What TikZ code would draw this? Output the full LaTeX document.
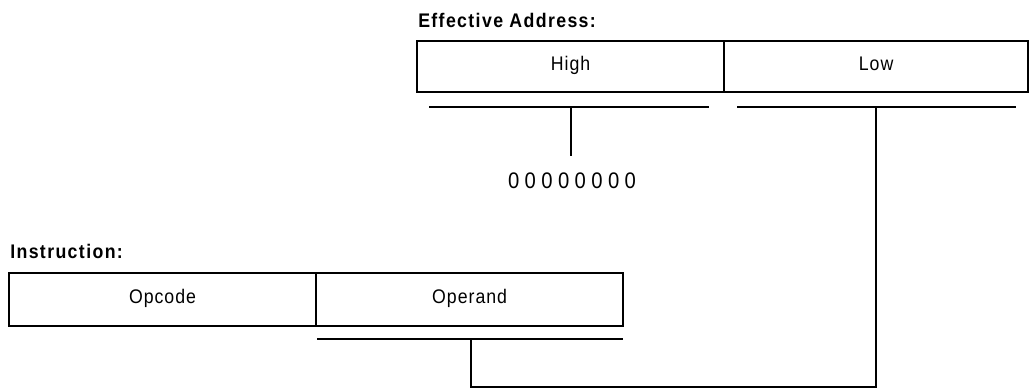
\documentclass[tikz,border=0pt]{standalone}
\usepackage{fontspec}
\setmainfont{Liberation Sans}[FakeStretch=0.9]
\begin{document}
\begin{tikzpicture}[x=0.025cm,y=-0.025cm,line width=1.8pt,
  field/.style={draw,inner sep=0pt,outer sep=0pt,anchor=north west,text height=1.6ex,text depth=0.45ex,
    font=\fontsize{14}{17}\selectfont\addfontfeatures{LetterSpace=5}},
  title/.style={anchor=base west,inner sep=0pt,
    font=\fontsize{14}{17}\selectfont\bfseries\addfontfeatures{LetterSpace=7}},
  label/.style={inner sep=0pt,font=\fontsize{16}{19}\selectfont\addfontfeatures{LetterSpace=24}}]
\useasboundingbox (0,0) rectangle (1034,389);

% effective address register
\node[title] (eatitle) at (417,27) {Effective Address:};
\node[field,minimum width=7.675cm,minimum height=1.275cm] (high) at (417,41) {High};
\node[field,minimum width=7.6cm,minimum height=1.275cm] (low) at (high.north east) {Low};

% brackets under the address halves
\coordinate (hbl) at (429,107);
\coordinate (hbr) at (709,107);
\coordinate (hbm) at (571,107);
\coordinate (lbl) at (737,107);
\coordinate (lbr) at (1016,107);
\coordinate (lbm) at (876,107);
\draw (hbl) -- (hbr);
\draw (lbl) -- (lbr);

% high byte forced to zero
\node[label] (zeros) at (572,181) {00000000};
\coordinate (zerotop) at (571,156);
\draw (hbm) -- (zerotop);

% instruction register
\node[title] (intitle) at (9,258) {Instruction:};
\node[field,minimum width=7.675cm,minimum height=1.325cm] (opcode) at (9,273) {Opcode};
\node[field,minimum width=7.675cm,minimum height=1.325cm] (operand) at (opcode.north east) {Operand};

\coordinate (obl) at (317,339);
\coordinate (obr) at (623,339);
\coordinate (obm) at (471,339);
\draw (obl) -- (obr);

% operand feeds the low byte
\coordinate (corner1) at (471,387);
\coordinate (corner2) at (876,387);
\draw (obm) -- (corner1) -- (corner2) -- (lbm);
\end{tikzpicture}
\end{document}
